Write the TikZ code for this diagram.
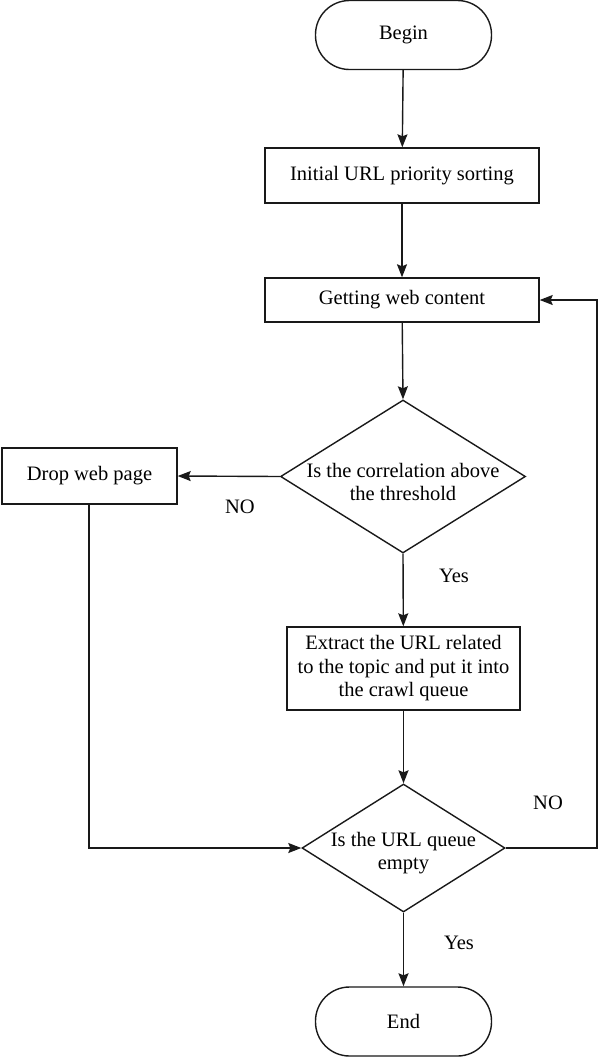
\documentclass[tikz,border=0pt]{standalone}
\usepackage{fontspec}
\setmainfont{Liberation Serif}
\usetikzlibrary{shapes.geometric,arrows.meta}
\begin{document}
\begin{tikzpicture}[x=1pt,y=-1pt,
  every node/.style={font=\fontsize{20.5}{23.5}\selectfont, text=black},
  line/.style={draw=black!90, line width=1.4pt},
  arr/.style={line, -{Stealth[length=13pt,width=10pt,inset=2pt]}},
  procbox/.style={draw=black!90, line width=1.4pt, rectangle, inner sep=0pt, align=center},
  termbox/.style={draw=black!90, line width=1.4pt, rectangle, rounded corners=34pt, inner sep=0pt, minimum width=176pt, minimum height=69pt},
  decbox/.style={draw=black!90, line width=1.4pt, diamond, inner sep=0pt},
  lbl/.style={inner sep=0pt}
]
\useasboundingbox (0,0) rectangle (600,1058);
\node[termbox] (begin) at (403.5,35) {};
\node at (begin) {Begin};
\node[procbox, minimum width=274pt, minimum height=55pt] (init) at (402,175.5) {Initial URL priority sorting};
\node[procbox, minimum width=274pt, minimum height=44pt] (get) at (402,300) {Getting web content};
\node[decbox, minimum width=245pt, minimum height=153pt] (d1) at (403,476.5) {};
\node[align=center] at (403,482) {Is the correlation above\\the threshold};
\node[procbox, minimum width=175pt, minimum height=56pt] (drop) at (89.5,476) {Drop web page};
\node[procbox, minimum width=233pt, minimum height=83pt] (ext) at (403.5,668.5) {Extract the URL related\\to the topic and put it into\\the crawl queue};
\node[decbox, minimum width=203pt, minimum height=128pt] (d2) at (403.5,848) {};
\node[align=center] at (403.5,853) {Is the URL queue\\empty};
\node[termbox] (end) at (403.5,1021.5) {};
\node at (end) {End};
\coordinate (dropc) at (89,848);
\coordinate (loopa) at (597,848);
\coordinate (loopb) at (597,300);
\draw[arr] (begin) -- (init);
\draw[arr] (init) -- (get);
\draw[arr] (get) -- (d1.north);
\draw[arr] (d1.west) -- (drop.east);
\draw[arr] (d1.south) -- (ext);
\draw[arr] (ext) -- (d2.north);
\draw[arr] (d2.south) -- (end);
\draw[arr] (drop.south -| dropc) -- (dropc) -- (d2.west);
\draw[arr] (d2.east) -- (loopa) -- (loopb) -- (get.east);
\node[lbl] (no1) at (240,507) {NO};
\node[lbl] (yes1) at (454,576) {Yes};
\node[lbl] (no2) at (548,803) {NO};
\node[lbl] (yes2) at (459,943) {Yes};
\end{tikzpicture}
\end{document}
